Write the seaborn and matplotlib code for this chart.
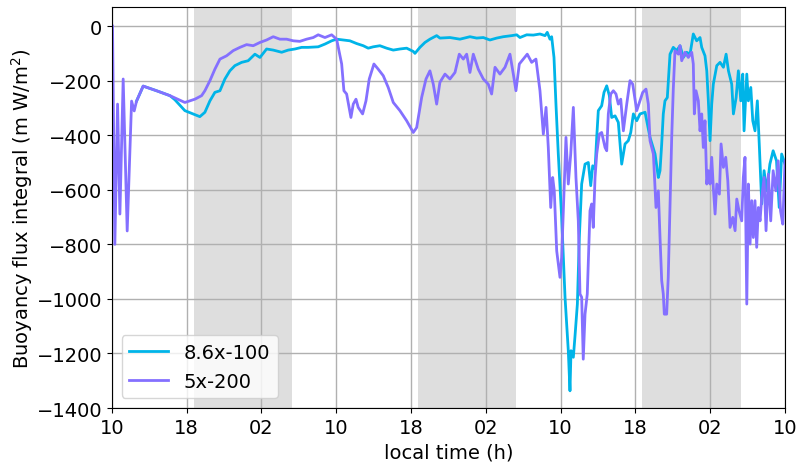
import pandas as pd
import seaborn as sns
import matplotlib.pyplot as plt

# local time in hours counted from 10:00 on day 1 (10 -> 82 covers three days)
t_cyan = [12.64, 13.35, 14.78, 16.21, 16.74, 17.81, 18.53, 19.41, 19.95, 20.49,
          21.02, 21.56, 22.09, 22.62, 23.16, 23.88, 24.58, 25.30, 25.84, 26.55,
          27.26, 28.16, 28.86, 29.58, 30.30, 31.00, 32.07, 32.79, 33.51, 34.04,
          34.75, 35.46, 36.18, 36.89, 37.42, 37.96, 38.67, 39.39, 40.10, 40.81,
          41.53, 42.24, 42.42, 42.95, 43.49, 44.02, 44.74, 45.09, 46.16, 47.23,
          48.30, 49.02, 49.73, 50.44, 51.16, 51.87, 52.77, 53.30, 53.65, 54.37,
          55.08, 55.79, 56.33, 56.57, 56.86, 57.04, 57.29, 57.50, 57.75, 58.11,
          58.47, 58.82, 59.00, 59.11, 59.36, 59.54, 59.79, 60.00, 60.25, 60.61,
          60.96, 61.22, 61.43, 61.68, 61.86, 62.03, 62.39, 62.64, 62.93, 63.21,
          63.46, 63.82, 64.17, 64.53, 64.89, 65.24, 65.50, 65.78, 66.14, 66.49,
          67.03, 67.56, 68.10, 68.45, 68.63, 68.81, 68.98, 69.16, 69.41, 69.70,
          70.05, 70.41, 70.77, 71.13, 71.48, 71.84, 72.19, 72.55, 72.91, 73.09,
          73.44, 73.63, 73.80, 73.98, 74.16, 74.33, 74.70, 75.05, 75.41, 75.70,
          75.95, 76.30, 76.48, 76.77, 77.01, 77.27, 77.48, 77.62, 77.91, 78.08,
          78.34, 78.55, 78.79, 79.04, 79.26, 79.51, 79.76, 80.04, 80.38, 80.73,
          81.09, 81.38, 81.64, 82.00]
b_cyan = [-275, -220, -237, -255, -270, -310, -320, -332, -316, -274,
          -243, -237, -194, -164, -145, -133, -127, -103, -115, -84,
          -88, -96, -88, -84, -78, -78, -76, -66, -54, -48,
          -51, -54, -64, -72, -81, -76, -72, -81, -88, -84,
          -81, -93, -100, -78, -60, -48, -35, -44, -42, -48,
          -39, -44, -42, -51, -44, -39, -35, -32, -42, -32,
          -33, -29, -35, -23, -48, -39, -115, -286, -469, -701,
          -994, -1190, -1337, -1190, -1214, -1135, -1019, -775, -579, -506,
          -500, -585, -512, -524, -408, -310, -292, -243, -219, -255,
          -335, -329, -353, -506, -432, -420, -390, -322, -347, -322,
          -316, -408, -469, -555, -530, -432, -322, -274, -262, -103,
          -78, -90, -72, -115, -96, -103, -29, -54, -42, -78,
          -109, -164, -274, -420, -286, -213, -145, -133, -151, -103,
          -164, -213, -322, -262, -164, -274, -176, -384, -176, -274,
          -225, -347, -384, -274, -445, -652, -530, -604, -506, -457,
          -494, -665, -469, -506]

t_purple = [10.07, 10.32, 10.61, 10.86, 11.21, 11.64, 12.11, 12.39, 12.64, 13.35,
            14.78, 16.21, 17.81, 18.88, 19.60, 19.95, 20.49, 21.02, 21.56, 22.27,
            22.98, 23.70, 24.41, 25.12, 25.84, 26.55, 27.26, 27.97, 28.69, 29.40,
            30.11, 30.83, 31.54, 32.07, 32.79, 33.51, 34.04, 34.58,
            34.82, 35.11, 35.57, 35.82, 36.11, 36.35, 36.82, 37.18, 37.53, 38.03,
            38.49, 39.03, 39.56, 40.10, 40.81, 41.53, 42.24, 42.60, 43.14, 43.60,
            44.02, 44.38, 44.74, 45.09, 45.63, 46.16, 46.70, 47.16, 47.59, 47.95,
            48.30, 48.66, 49.19, 49.73, 50.26, 50.62, 50.98, 51.51, 52.05, 52.58,
            52.94, 53.22, 53.58, 54.01, 54.43, 54.90, 55.36, 55.79, 56.15, 56.44,
            56.68, 56.94, 57.15, 57.32, 57.58, 57.75, 57.93, 58.11, 58.36, 58.57,
            58.82, 59.08, 59.36, 59.64, 59.89, 60.07, 60.25, 60.42, 60.61, 60.85,
            61.14, 61.32, 61.49, 61.68, 61.86, 62.14, 62.39, 62.75, 62.93, 63.10,
            63.36, 63.64, 63.92, 64.17, 64.43, 64.71, 65.07, 65.42, 65.71, 66.14,
            66.49, 66.78, 67.13, 67.38, 67.56, 67.92, 68.20, 68.45, 68.63, 68.81,
            68.98, 69.09, 69.34, 69.51, 69.70, 69.88, 70.05, 70.23, 70.59, 70.77,
            70.95, 71.30, 71.66, 72.02, 72.19, 72.30, 72.48, 72.73, 72.91, 73.09,
            73.26, 73.44, 73.63, 73.80, 73.98, 74.16, 74.33, 74.52, 74.70, 74.98,
            75.16, 75.41, 75.66, 75.88, 76.12, 76.41, 76.66, 76.84, 77.08, 77.37,
            77.54, 77.72, 77.91, 78.08, 78.26, 78.44, 78.61, 78.79, 78.97, 79.15,
            79.33, 79.51, 79.76, 79.97, 80.22, 80.47, 80.73, 81.02, 81.27, 81.52,
            81.76, 82.00]
b_purple = [0, -800, -286, -689, -194, -751, -275, -311, -275, -220,
            -237, -255, -280, -268, -255, -237, -200, -158, -121, -109,
            -90, -78, -68, -72, -60, -51, -39, -48, -48, -54,
            -56, -48, -42, -32, -42, -32, -48, -139,
            -237, -249, -335, -286, -268, -298, -322, -274, -194, -139,
            -158, -182, -225, -280, -310, -347, -390, -372, -261, -194,
            -164, -213, -286, -206, -176, -194, -170, -103, -121, -103,
            -170, -103, -158, -194, -213, -249, -151, -176, -151, -103,
            -176, -237, -139, -121, -103, -133, -121, -237, -396, -298,
            -445, -665, -555, -604, -824, -872, -921, -848, -604, -408,
            -579, -469, -298, -555, -714, -982, -994, -1221, -1056, -982,
            -677, -652, -738, -555, -469, -396, -390, -445, -457, -322,
            -249, -237, -249, -286, -268, -384, -286, -200, -213, -310,
            -274, -243, -231, -286, -420, -469, -665, -604, -775, -933,
            -982, -1056, -1056, -921, -652, -408, -231, -90, -103, -72,
            -127, -96, -115, -96, -139, -322, -237, -274, -384, -322,
            -445, -347, -579, -530, -579, -481, -591, -689, -579, -616,
            -432, -518, -481, -567, -738, -701, -750, -634, -677, -714,
            -555, -481, -1019, -579, -799, -640, -775, -640, -811, -665,
            -714, -628, -555, -750, -543, -714, -530, -604, -494, -677,
            -726, -494]

runs = ['8.6x-100', '5x-200']
colors = {'8.6x-100': '#00b4e8', '5x-200': '#8470ff'}

# night periods (grey shading)
night_start = [18.75, 42.75, 66.75]
night_end = [29.25, 53.25, 77.25]

tick_pos = list(range(10, 83, 8))
tick_labels = [f"{h % 24:02d}" for h in tick_pos]

df = pd.concat([
    pd.DataFrame({'time': t_cyan, 'flux': b_cyan, 'run': runs[0]}),
    pd.DataFrame({'time': t_purple, 'flux': b_purple, 'run': runs[1]}),
])

plt.rcParams['font.size'] = 14
fig = plt.figure(figsize=(7.99, 4.64), dpi=100)
ax = fig.add_axes([0.140, 0.1185, 0.8425, 0.8643])

for s, e in zip(night_start, night_end):
    ax.axvspan(s, e, color='#dedede', lw=0, zorder=0)

sns.lineplot(data=df, x='time', y='flux', hue='run', hue_order=runs,
             palette=colors, estimator=None, sort=False, lw=2, ax=ax)

ax.grid(True, color='#b0b0b0', lw=1)
ax.set_xlim(10, 82)
ax.set_ylim(-1400, 70)
ax.set_xticks(tick_pos)
ax.set_xticklabels(tick_labels)
ax.set_xlabel('local time (h)')
ax.set_ylabel('Buoyancy flux integral (m W/m$^2$)', labelpad=1)
ax.legend(loc='lower left', title=None)

plt.savefig('out.png', dpi=100)
